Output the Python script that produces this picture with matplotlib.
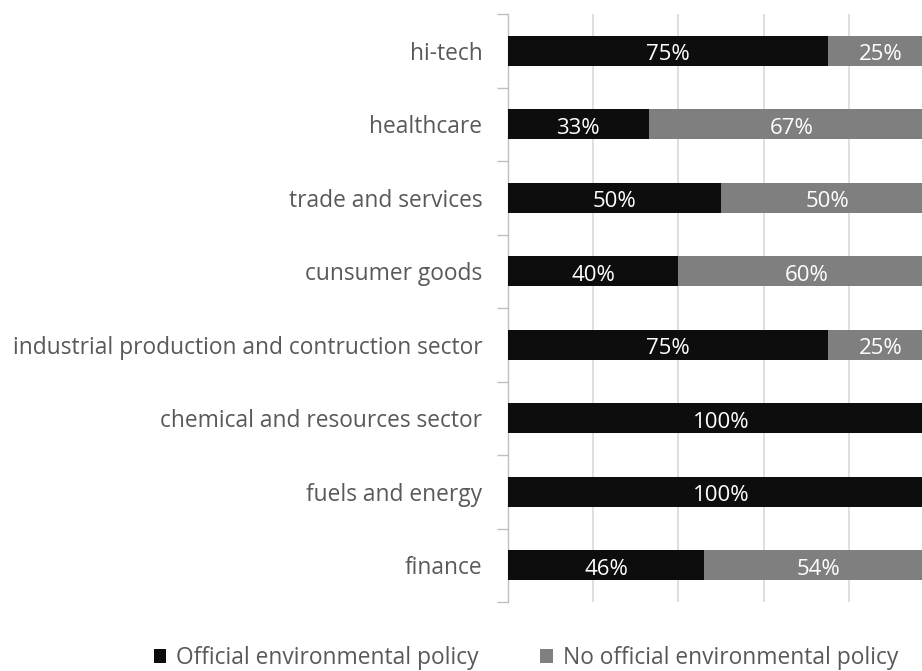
import matplotlib
matplotlib.use("Agg")
import matplotlib.pyplot as plt
from matplotlib.patches import Patch
import numpy as np

# Sector shares of companies with / without an official environmental policy (%)
categories = [
    "hi-tech",
    "healthcare",
    "trade and services",
    "cunsumer goods",
    "industrial production and contruction sector",
    "chemical and resources sector",
    "fuels and energy",
    "finance",
]
official = [75, 33, 50, 40, 75, 100, 100, 46]
no_official = [25, 67, 50, 60, 25, 0, 0, 54]
series_names = ["Official environmental policy", "No official environmental policy"]
x_ticks = [0, 20, 40, 60, 80, 100]

FONT = "Open Sans"
C_DARK = "#0d0d0d"
C_GRAY = "#7f7f7f"
C_TEXT = "#595959"
C_GRID = "#d9d9d9"
C_AXIS = "#bfbfbf"
FS = 16.4

plt.rcParams["font.family"] = [FONT, "DejaVu Sans"]

fig = plt.figure(figsize=(9.22, 6.71), dpi=100)
fig.patch.set_facecolor("white")
# plot area deliberately extends past the right edge of the canvas
ax = fig.add_axes([508 / 922, 69 / 671, 426 / 922, 588 / 671])
ax.set_facecolor("white")

y = np.arange(len(categories))
h = 0.41
b1 = ax.barh(y, official, height=h, color=C_DARK, zorder=3)
b2 = ax.barh(y, no_official, left=official, height=h, color=C_GRAY, zorder=3)

# value labels, nudged down a few pixels so the digits sit visually centred
for vals, lefts in ((official, [0] * len(official)), (no_official, official)):
    for yi, v, l in zip(y, vals, lefts):
        if v > 0:
            ax.annotate(f"{v}%", (l + v / 2, yi), xytext=(0, -3), textcoords="offset points",
                        ha="center", va="center", color="white", fontsize=16, zorder=4)

ax.set_xlim(0, 100)
ax.set_ylim(len(categories) - 0.5, -0.5)
ax.set_xticks(x_ticks)
ax.tick_params(axis="x", length=0, labelbottom=False)
ax.xaxis.grid(True, color=C_GRID, linewidth=1.2, zorder=0)
ax.set_axisbelow(True)

ax.set_yticks(y)
ax.set_yticklabels(categories, fontsize=FS, color=C_TEXT)
ax.tick_params(axis="y", which="major", length=0, pad=18.5)
ax.set_yticks(np.arange(-0.5, len(categories) + 0.5, 1), minor=True)
ax.tick_params(axis="y", which="minor", length=8, width=1, color=C_AXIS)

for s in ("top", "right", "bottom"):
    ax.spines[s].set_visible(False)
ax.spines["left"].set_color(C_AXIS)
ax.spines["left"].set_linewidth(1)

handles = [Patch(facecolor=C_DARK, edgecolor="none"),
           Patch(facecolor=C_GRAY, edgecolor="none")]
fig.legend(handles, series_names, loc="center", bbox_to_anchor=(526 / 922, 1 - 658 / 671),
           ncol=2, frameon=False, fontsize=FS, labelcolor=C_TEXT,
           handlelength=0.55, handleheight=0.55, handletextpad=0.45, columnspacing=2.7,
           borderpad=0, borderaxespad=0)

fig.savefig("out.png", dpi=100, facecolor="white")
